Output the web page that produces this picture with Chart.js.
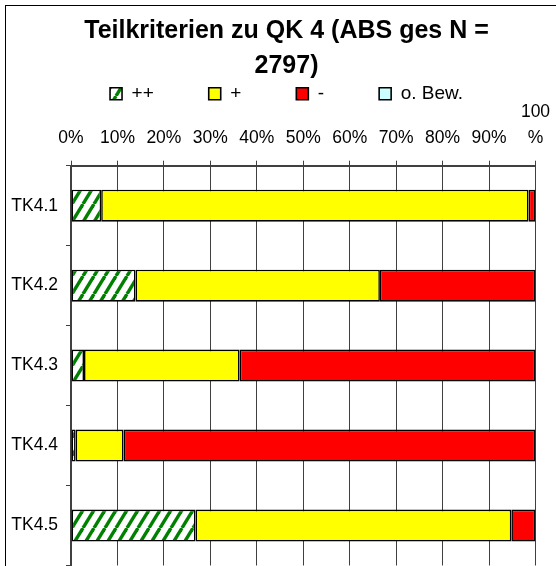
<!DOCTYPE html>
<html>
<head>
<meta charset="utf-8">
<script src="https://cdn.jsdelivr.net/npm/chart.js@4.4.0/dist/chart.umd.min.js"></script>
<style>
  html, body { margin: 0; padding: 0; background: #fff; overflow: hidden; }
  #frame { position: absolute; left: 5px; top: 5px; width: 600px; height: 600px;
           border-left: 1px solid #000; border-top: 1px solid #000; }
  canvas { display: block; }
</style>
</head>
<body>
<div id="frame"><canvas id="chart" width="565" height="578"></canvas></div>
<script>
const titleLines = ['Teilkriterien zu QK 4 (ABS ges N =', '2797)'];
const categories = ['TK4.1', 'TK4.2', 'TK4.3', 'TK4.4', 'TK4.5'];
const tickLabels = ['0%', '10%', '20%', '30%', '40%', '50%', '60%', '70%', '80%', '90%', ['100', '%']];

// shares in percent
const sharePlusPlus = [6.5, 13.9, 2.8, 1.0, 26.8];
const sharePlus = [92.0, 52.6, 33.5, 10.3, 68.0];
const shareMinus = [1.5, 33.5, 63.7, 88.7, 5.2];
const shareNoRating = [0, 0, 0, 0, 0];

Chart.defaults.font.family = "'Liberation Sans', Arial, sans-serif";
Chart.defaults.color = '#000';

// green diagonal hatch for "++"
function makeHatch() {
  const c = document.createElement('canvas');
  c.width = 11; c.height = 18;
  const g = c.getContext('2d');
  g.fillStyle = '#fff';
  g.fillRect(0, 0, c.width, c.height);
  g.strokeStyle = '#008000';
  g.lineWidth = 3.4;
  [-11, 0, 11].forEach(dx => {
    g.beginPath();
    g.moveTo(dx, c.height);
    g.lineTo(dx + c.width, 0);
    g.stroke();
  });
  return g.createPattern(c, 'repeat');
}

// legend keeps its wide item spacing but takes less height
const legendHeight = {
  id: 'legendHeight',
  beforeInit(chart) {
    const fit = chart.legend.fit;
    chart.legend.fit = function () { fit.call(this); this.height = 73.5; };
  }
};

const ctx = document.getElementById('chart').getContext('2d');
const hatch = makeHatch();

const barStyle = { borderColor: '#000', borderWidth: 1.6, borderSkipped: false,
                   barPercentage: 0.4, categoryPercentage: 1 };

new Chart(ctx, {
  type: 'bar',
  data: {
    labels: categories,
    datasets: [
      { label: '++', data: sharePlusPlus, backgroundColor: hatch, ...barStyle },
      { label: '+', data: sharePlus, backgroundColor: '#FFFF00', ...barStyle },
      { label: '-', data: shareMinus, backgroundColor: '#FF0000', ...barStyle },
      { label: 'o. Bew.', data: shareNoRating, backgroundColor: '#CCFFFF', ...barStyle }
    ]
  },
  plugins: [legendHeight],
  options: {
    indexAxis: 'y',
    responsive: false,
    animation: false,
    layout: { padding: { left: 0, right: 4, top: 0, bottom: 0 } },
    plugins: {
      title: {
        display: true, text: titleLines, color: '#000',
        font: { size: 25, weight: 'bold', lineHeight: 1.4 },
        padding: { top: 8, bottom: -54.8 }
      },
      legend: {
        position: 'top',
        labels: { color: '#000', boxWidth: 12, boxHeight: 12, padding: 55, font: { size: 19 } }
      },
      tooltip: { enabled: false }
    },
    scales: {
      x: {
        position: 'top', stacked: true, min: 0, max: 100,
        grid: { color: '#404040', lineWidth: 1, tickLength: 5 },
        border: { color: '#404040', width: 2 },
        ticks: {
          stepSize: 10, autoSkip: false, maxRotation: 0, padding: 9, color: '#000',
          font: { size: 17.5, lineHeight: 1.5 },
          callback: (v, i) => tickLabels[i]
        },
        afterFit(s) { s.height = 63; }
      },
      y: {
        position: 'left', stacked: true,
        grid: { offset: true, drawOnChartArea: false, tickLength: 5, color: '#404040' },
        border: { color: '#404040', width: 2 },
        ticks: { padding: 8, color: '#000', font: { size: 17.5 } },
        afterFit(s) { s.width = 65; }
      },
      // empty axis on the right, only keeps the plot clear of the frame edge
      yRight: {
        type: 'category', position: 'right',
        grid: { display: false }, border: { display: false }, ticks: { display: false },
        afterFit(s) { s.width = 31.5; }
      }
    }
  }
});
</script>
</body>
</html>
